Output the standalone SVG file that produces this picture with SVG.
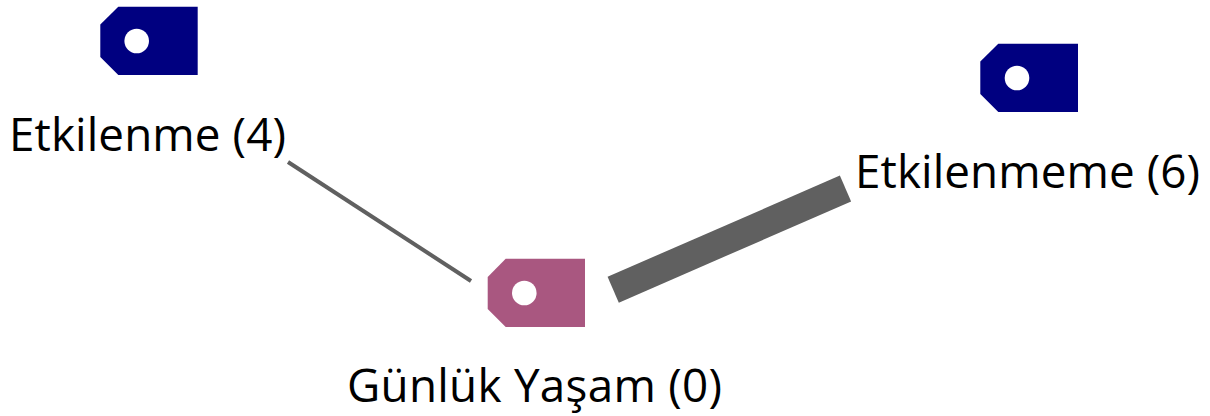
<svg xmlns="http://www.w3.org/2000/svg" width="1210" height="416" viewBox="0 0 1210 416">
<style>
text{font-family:"Open Sans","Noto Sans","Liberation Sans",sans-serif;font-size:45.8px;fill:#000}
.hole{fill:#fff}
</style>
<rect width="1210" height="416" fill="#fff"/>
<g id="connectors">
<line x1="288" y1="162" x2="471" y2="281" stroke="#606060" stroke-width="4"/>
<line x1="613.2" y1="289.7" x2="845.5" y2="188.5" stroke="#606060" stroke-width="28.2"/>
</g>
<g id="node-etkilenme">
<path d="M197.7 6.7V75H118.3L100.3 57V24.500L118.300 6.700Z" fill="#000080"/>
<circle class="hole" cx="136.700" cy="41" r="12.300"/>
<text x="9" y="151" textLength="277">Etkilenme (4)</text>
</g>
<g id="node-etkilenmeme">
<path d="M1078 43.700V112H998.300L980.300 94V61.500L998.300 43.700Z" fill="#000080"/>
<circle class="hole" cx="1017" cy="78" r="12.300"/>
<text x="855" y="188" textLength="345">Etkilenmeme (6)</text>
</g>
<g id="node-gunluk">
<path d="M585 258.700V327H505.700L487.700 309V277L505.700 258.700Z" fill="#a95780"/>
<circle class="hole" cx="524.300" cy="293" r="12.300"/>
<text x="347" y="402" textLength="375">Günlük Yaşam (0)</text>
</g>
</svg>
